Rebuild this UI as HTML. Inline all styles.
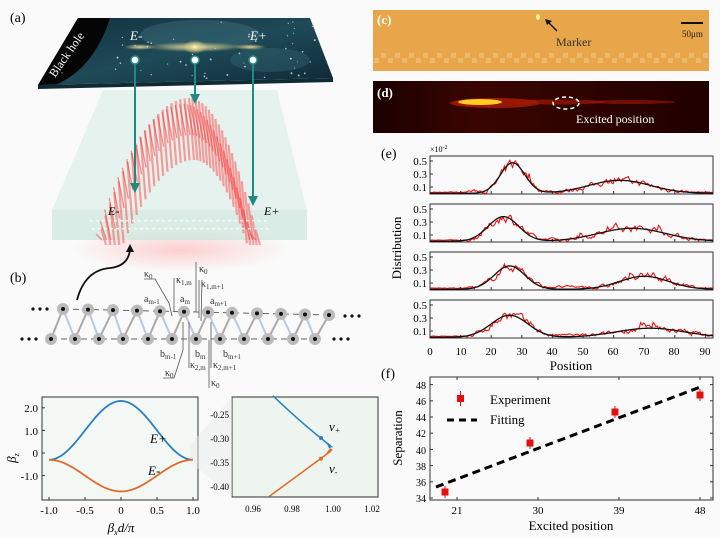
<!DOCTYPE html>
<html><head><meta charset="utf-8">
<style>
html,body{margin:0;padding:0;background:#fafafa;}
svg{display:block;font-family:"Liberation Serif",serif;}
</style></head>
<body>
<svg id="s" width="720" height="538" viewBox="0 0 720 538" xmlns="http://www.w3.org/2000/svg">
<defs>
<linearGradient id="gal" x1="0" y1="0" x2="1" y2="1">
<stop offset="0" stop-color="#12303f"/><stop offset="0.5" stop-color="#1f4a58"/><stop offset="1" stop-color="#0e2836"/>
</linearGradient>
<radialGradient id="glow"><stop offset="0" stop-color="#fff6c0"/><stop offset="0.4" stop-color="#d8cc8a" stop-opacity="0.8"/><stop offset="1" stop-color="#d8cc8a" stop-opacity="0"/></radialGradient>
<radialGradient id="redg" cx="0.5" cy="0.5" r="0.5"><stop offset="0" stop-color="#ff8080" stop-opacity="0.35"/><stop offset="1" stop-color="#ff8080" stop-opacity="0"/></radialGradient>
<linearGradient id="dgr" x1="0" y1="0" x2="1" y2="0"><stop offset="0" stop-color="#1a0000"/><stop offset="0.3" stop-color="#3a0500"/><stop offset="1" stop-color="#200000"/></linearGradient>
<clipPath id="galclip"><polygon points="78,18 310,18 333,78 38,85"/></clipPath>
</defs>
<rect width="720" height="538" fill="#fafafa"/>
<!-- (a) -->
<text x="10" y="22" font-size="14">(a)</text>
<ellipse cx="180" cy="250" rx="110" ry="22" fill="url(#redg)"/>
<polygon points="103,90 277,90 307,210 52,210" fill="#d6ebe4" opacity="0.55"/>
<polygon points="52,210 307,210 307,240 52,240" fill="#c4e2d8" opacity="0.6"/>
<g id="arch"></g>
<polygon points="38,85 333,78 333,82 38,89" fill="#0e2a33"/>
<polygon points="78,18 310,18 333,78 38,85" fill="url(#gal)"/>
<g clip-path="url(#galclip)">
<ellipse cx="200" cy="35" rx="60" ry="15" fill="#4a7a88" opacity="0.35"/>
<ellipse cx="270" cy="60" rx="40" ry="12" fill="#3d6f7c" opacity="0.35"/>
<ellipse cx="195" cy="47" rx="50" ry="5" fill="url(#glow)" opacity="0.8"/>
<ellipse cx="195" cy="47" rx="12" ry="7" fill="url(#glow)"/>
<ellipse cx="140" cy="47" rx="16" ry="3" fill="url(#glow)" opacity="0.8"/>
<ellipse cx="250" cy="47" rx="16" ry="3" fill="url(#glow)" opacity="0.8"/>
<path d="M38,90 Q90,80 110,18 L30,10 Z" fill="#050505"/>
</g>
<g id="stars" fill="#fff" opacity="0.7"></g>
<text x="55" y="78" font-size="12" fill="#fff" transform="rotate(-55 55 78)">Black hole</text>
<text x="130" y="40" font-size="13" font-style="italic" fill="#fff">E-</text>
<text x="250" y="40" font-size="13" font-style="italic" fill="#fff">E+</text>
<g fill="#fff" stroke="#2a8f88" stroke-width="1.5">
<circle cx="135" cy="60" r="4"/><circle cx="195" cy="60" r="4"/><circle cx="253" cy="60" r="4"/>
</g>
<g stroke="#1e8a82" stroke-width="2" fill="#1e8a82">
<line x1="135" y1="64" x2="135" y2="186"/><polygon points="130,183 140,183 135,193" stroke="none"/>
<line x1="195" y1="64" x2="195" y2="97"/><polygon points="190,94 200,94 195,104" stroke="none"/>
<line x1="253" y1="64" x2="253" y2="199"/><polygon points="248,196 258,196 253,206" stroke="none"/>
</g>
<text x="108" y="215" font-size="12" font-style="italic">E-</text>
<text x="264" y="215" font-size="12" font-style="italic">E+</text>
<g fill="#fff" opacity="0.8" id="dots"></g>
<path d="M77,300 Q85,270 110,268 Q128,266 130,250" fill="none" stroke="#111" stroke-width="1.8"/>
<polygon points="126,252 134,252 130,244" fill="#111"/>
<!-- (b) -->
<text x="10" y="282" font-size="14">(b)</text>
<g id="lat"></g>
<g font-size="10" fill="#333" stroke="none">
<text x="144" y="277">κ<tspan font-size="7" dy="2">0</tspan></text>
<text x="176" y="283">κ<tspan font-size="7" dy="2">1,m</tspan></text>
<text x="199" y="272">κ<tspan font-size="7" dy="2">0</tspan></text>
<text x="201" y="287">κ<tspan font-size="7" dy="2">1,m+1</tspan></text>
<text x="144" y="302">a<tspan font-size="7" dy="2">m-1</tspan></text>
<text x="180" y="302">a<tspan font-size="7" dy="2">m</tspan></text>
<text x="210" y="304">a<tspan font-size="7" dy="2">m+1</tspan></text>
<text x="160" y="357">b<tspan font-size="7" dy="2">m-1</tspan></text>
<text x="195" y="357">b<tspan font-size="7" dy="2">m</tspan></text>
<text x="223" y="357">b<tspan font-size="7" dy="2">m+1</tspan></text>
<text x="190" y="368">κ<tspan font-size="7" dy="2">2,m</tspan></text>
<text x="213" y="368">κ<tspan font-size="7" dy="2">2,m+1</tspan></text>
<text x="165" y="376">κ<tspan font-size="7" dy="2">0</tspan></text>
<text x="211" y="386">κ<tspan font-size="7" dy="2">0</tspan></text>
</g>
<g stroke="#555" stroke-width="0.8" fill="none">
<path d="M144,279 L155,279 L169,303 L172,316"/>
<line x1="174" y1="278" x2="174" y2="312"/><line x1="196" y1="262" x2="196" y2="312"/><line x1="199" y1="280" x2="199" y2="318"/><line x1="202" y1="280" x2="201" y2="321"/>
<line x1="189" y1="322" x2="189" y2="368"/><line x1="211" y1="322" x2="211" y2="368"/><line x1="209" y1="340" x2="209" y2="388"/>
<path d="M163,378 L174,378 L183,350 L183,322"/>
</g>
<!-- bottom-left plots -->
<rect x="42" y="397" width="156" height="103" fill="#f4f8f4" stroke="#333" stroke-width="1"/>
<rect x="232" y="397" width="146" height="100" fill="#eef5ef" stroke="#333" stroke-width="1"/>
<polygon points="190,445 232,397 232,497 190,462" fill="#e6ece8" opacity="0.5"/>
<g id="p1"></g>
<g font-size="11" text-anchor="end">
<text x="38" y="412">2.0</text><text x="38" y="435">1.0</text><text x="38" y="457">0</text><text x="38" y="480">-1.0</text>
</g>
<g font-size="11" text-anchor="middle">
<text x="49" y="514">-1.0</text><text x="85" y="514">-0.5</text><text x="121" y="514">0</text><text x="157" y="514">0.5</text><text x="193" y="514">1.0</text>
<text x="121" y="532" font-style="italic" font-size="13">β<tspan font-size="8" dy="3">x</tspan><tspan dy="-3">d/π</tspan></text>
</g>
<text x="16" y="458" font-size="13" font-style="italic" transform="rotate(-90 16 458)" text-anchor="middle">β<tspan font-size="8" dy="3">z</tspan></text>
<text x="150" y="443" font-size="13" font-style="italic">E+</text>
<text x="148" y="475" font-size="13" font-style="italic">E-</text>
<g font-size="9" text-anchor="end">
<text x="229" y="418">-0.25</text><text x="229" y="442">-0.30</text><text x="229" y="466">-0.35</text><text x="229" y="490">-0.40</text>
</g>
<g font-size="9" text-anchor="middle">
<text x="253" y="512">0.96</text><text x="292" y="512">0.98</text><text x="333" y="512">1.00</text><text x="372" y="512">1.02</text>
</g>
<text x="329" y="431" font-size="13" font-style="italic">ν<tspan font-size="8" dy="2">+</tspan></text>
<text x="329" y="473" font-size="13" font-style="italic">ν<tspan font-size="8" dy="2">-</tspan></text>
<!-- (c) -->
<rect x="373" y="10" width="336" height="61" fill="#e8a64a"/>
<g id="zig"></g>
<ellipse cx="538" cy="17" rx="2" ry="3" fill="#fff3a0"/>
<line x1="548" y1="22" x2="557" y2="31" stroke="#111" stroke-width="1.5"/><polygon points="545,19 552,21 547,25" fill="#111"/>
<text x="377" y="24" font-size="13" font-weight="bold" fill="#fff">(c)</text>
<text x="556" y="46" font-size="12" fill="#333">Marker</text>
<line x1="681" y1="23" x2="703" y2="23" stroke="#111" stroke-width="2"/>
<text x="682" y="37" font-size="9" fill="#222">50μm</text>
<!-- (d) -->
<rect x="373" y="81" width="336" height="52" fill="url(#dgr)"/>
<ellipse cx="495" cy="103" rx="45" ry="5" fill="#c02000" opacity="0.7"/>
<ellipse cx="480" cy="102" rx="22" ry="3" fill="#ffcc20"/>
<ellipse cx="555" cy="102" rx="50" ry="2.5" fill="#a01800" opacity="0.7"/>
<ellipse cx="630" cy="102" rx="45" ry="2" fill="#901500" opacity="0.7"/>
<ellipse cx="566" cy="103" rx="13" ry="6" fill="none" stroke="#fff" stroke-width="1.5" stroke-dasharray="4,3"/>
<text x="377" y="97" font-size="13" font-weight="bold" fill="#fff">(d)</text>
<text x="576" y="123" font-size="12" fill="#fff">Excited position</text>
<!-- (e) -->
<text x="381" y="158" font-size="14">(e)</text>
<text x="430" y="152" font-size="8">×10<tspan font-size="6" dy="-3">-2</tspan></text>
<g id="pe"></g>
<g font-size="11" text-anchor="middle">
<text x="430" y="355">0</text><text x="461" y="355">10</text><text x="491" y="355">20</text><text x="522" y="355">30</text><text x="552" y="355">40</text><text x="583" y="355">50</text><text x="613" y="355">60</text><text x="644" y="355">70</text><text x="674" y="355">80</text><text x="705" y="355">90</text>
<text x="571" y="370" font-size="13">Position</text>
</g>
<text x="401" y="248" font-size="13" text-anchor="middle" transform="rotate(-90 401 248)">Distribution</text>
<!-- (f) -->
<text x="381" y="378" font-size="14">(f)</text>
<rect x="430" y="377" width="283" height="123" fill="none" stroke="#333" stroke-width="1"/>
<g id="pf"></g>
<g font-size="10" text-anchor="end">
<text x="426" y="389">48</text><text x="426" y="405">46</text><text x="426" y="421">44</text><text x="426" y="437">42</text><text x="426" y="454">40</text><text x="426" y="470">38</text><text x="426" y="486">36</text><text x="426" y="502">34</text>
</g>
<g font-size="11" text-anchor="middle">
<text x="457" y="514">21</text><text x="538" y="514">30</text><text x="619" y="514">39</text><text x="700" y="514">48</text>
<text x="571" y="530" font-size="13">Excited position</text>
</g>
<text x="402" y="438" font-size="13" text-anchor="middle" transform="rotate(-90 402 438)">Separation</text>
<rect x="457" y="395" width="7" height="7" fill="#e41010"/><line x1="460.5" y1="391" x2="460.5" y2="406" stroke="#e41010"/>
<text x="490" y="404" font-size="13">Experiment</text>
<line x1="447" y1="420" x2="477" y2="420" stroke="#000" stroke-width="3" stroke-dasharray="7,5"/>
<text x="490" y="424" font-size="13">Fitting</text>
</svg>
<script>
var NS="http://www.w3.org/2000/svg";
function el(p,t,a){var e=document.createElementNS(NS,t);for(var k in a)e.setAttribute(k,a[k]);p.appendChild(e);return e;}
var seed=7;function rnd(){seed=(seed*16807)%2147483647;return seed/2147483647;}
var st=document.getElementById('stars');
for(var i=0;i<60;i++){var y=22+rnd()*58;var x0=78-(y-18)*40/67,x1=310+(y-18)*23/60;var x=x0+rnd()*(x1-x0);if(x<105&&y<70)continue;el(st,'circle',{cx:x,cy:y,r:0.5+rnd()*0.5});}
var zg=document.getElementById('zig');
for(var i=0;i<48;i++){el(zg,'rect',{x:374+i*7,y:(i%2?53:58),width:5,height:5,fill:'#f2c27a',opacity:0.7});}
var ar=document.getElementById('arch');
for(var i=0;i<=40;i++){var t=-1+i/20;var x=195+t*(t<0?88:66);var y=100+130*t*t;
 el(ar,'line',{x1:x-6,y1:y-2,x2:x-1,y2:Math.min(y+60,245),stroke:'#ff4a4a','stroke-width':2.2,opacity:0.5});
 el(ar,'line',{x1:x-11,y1:y+4,x2:x-5,y2:Math.min(y+35,240),stroke:'#ff2a2a','stroke-width':1.3,opacity:0.5});}
var dt=document.getElementById('dots');
for(var i=0;i<30;i++){el(dt,'rect',{x:90+i*6,y:220,width:3,height:1.5});el(dt,'rect',{x:92+i*6,y:228,width:3,height:1.5});}
var lt=document.getElementById('lat');
var tx=[63,88,113,137,160,184,208,232,257,281,305,329],bx=[51,75,99,123,148,172,196,220,244,268,293,315];
function ty(x){return 309+(x-63)*6/266;}
for(var i=0;i<12;i++){el(lt,'line',{x1:tx[i],y1:ty(tx[i]),x2:bx[i],y2:339,stroke:'#aaa','stroke-width':2});
 if(i<11)el(lt,'line',{x1:tx[i],y1:ty(tx[i]),x2:bx[i+1],y2:339,stroke:'#b8c8e8','stroke-width':2});}
el(lt,'line',{x1:63,y1:309,x2:329,y2:315,stroke:'#666','stroke-dasharray':'6,4','stroke-width':1});
el(lt,'line',{x1:51,y1:339,x2:315,y2:339,stroke:'#666','stroke-dasharray':'6,4','stroke-width':1});
for(var i=0;i<12;i++){[[tx[i],ty(tx[i])],[bx[i],339]].forEach(function(p){el(lt,'circle',{cx:p[0],cy:p[1],r:6,fill:'#bbb'});el(lt,'circle',{cx:p[0],cy:p[1],r:2,fill:'#111'});});}
[[33,309],[40,309],[47,309],[345,316],[352,316],[359,316],[22,339],[29,339],[36,339],[334,339],[341,339],[348,339]].forEach(function(p){el(lt,'circle',{cx:p[0],cy:p[1],r:1.6,fill:'#111'});});
var p1=document.getElementById('p1');
function px1(v){return 121+v*72;}function py1(v){return 453-v*22.6;}
var a='',b='';for(var i=0;i<=100;i++){var v=-1+i/50;var c=Math.cos(Math.PI*v);a+=(i?'L':'M')+px1(v)+','+py1(1+1.3*c);b+=(i?'L':'M')+px1(v)+','+py1(-1-0.7*c);}
el(p1,'path',{d:a,fill:'none',stroke:'#2a7fc0','stroke-width':1.8});el(p1,'path',{d:b,fill:'none',stroke:'#e06a2a','stroke-width':1.8});
[-1,-0.5,0,0.5,1].forEach(function(v){el(p1,'line',{x1:px1(v),y1:500,x2:px1(v),y2:497,stroke:'#333'});});
[2,1,0,-1].forEach(function(v){el(p1,'line',{x1:42,y1:py1(v),x2:45,y2:py1(v),stroke:'#333'});});
function px2(v){return 253+(v-0.96)*2000;}function py2(v){return 415-(v+0.25)*480;}
el(p1,'path',{d:'M'+px2(0.97)+','+py2(-0.21)+' Q'+px2(0.985)+','+py2(-0.27)+' '+px2(0.999)+','+py2(-0.315),fill:'none',stroke:'#2a7fc0','stroke-width':1.5});
el(p1,'path',{d:'M'+px2(0.968)+','+py2(-0.42)+' L'+px2(0.999)+','+py2(-0.325),fill:'none',stroke:'#e06a2a','stroke-width':1.5});
el(p1,'polygon',{points:(px2(1.0))+','+py2(-0.317)+' '+(px2(1.0)-7)+','+(py2(-0.317)-5)+' '+(px2(1.0)-4)+','+(py2(-0.317)+1),fill:'#2a7fc0'});
el(p1,'polygon',{points:(px2(1.0))+','+py2(-0.323)+' '+(px2(1.0)-7)+','+(py2(-0.323)+4)+' '+(px2(1.0)-3)+','+(py2(-0.323)-2),fill:'#e06a2a'});
el(p1,'circle',{cx:px2(0.994),cy:py2(-0.298),r:2,fill:'#2a7fc0'});el(p1,'circle',{cx:px2(0.994),cy:py2(-0.341),r:2,fill:'#e06a2a'});
var pe=document.getElementById('pe');
var P=[[156,0.47,27,4,0.2,62,10],[204,0.38,24,5,0.2,66,11],[252,0.36,26,5,0.2,70,8],[300,0.34,26,6,0.14,72,11]];
function ex(v){return 430+v*3.06;}
P.forEach(function(q){var T=q[0];function ey(v){return T+37.5-v*65;}
 el(pe,'rect',{x:430,y:T,width:283,height:38,fill:'none',stroke:'#333'});
 [0.1,0.3,0.5].forEach(function(v){el(pe,'line',{x1:430,y1:ey(v),x2:433,y2:ey(v),stroke:'#333'});el(pe,'text',{x:427,y:ey(v)+4,'font-size':11,'text-anchor':'end'}).textContent=String(v);});
 for(var k=0;k<=90;k+=10){el(pe,'line',{x1:ex(k),y1:T+38,x2:ex(k),y2:T+35,stroke:'#333'});}
 function g(x){return q[1]*Math.exp(-Math.pow(x-q[2],2)/(2*q[3]*q[3]))+q[4]*Math.exp(-Math.pow(x-q[5],2)/(2*q[6]*q[6]));}
 var r='',f='',prev=0;for(var x=0;x<=92.5;x+=0.45){var y=g(x);var n;
  if(y>0.02){n=y+(rnd()-0.5)*0.22*(0.4+y*2);}else{n=0.01+rnd()*0.06*(x>12&&x<85?1:0.35);}
  if(rnd()<0.04&&y>0.05)n+=0.12;
  n=0.5*n+0.5*(prev||n);prev=n;
  n=Math.max(0.003,Math.min(0.55,n));r+=(x?'L':'M')+ex(x).toFixed(1)+','+ey(n).toFixed(1);}
 for(var x=0;x<=92.5;x+=0.5){f+=(x?'L':'M')+ex(x).toFixed(1)+','+ey(g(x)+0.003).toFixed(1);}
 el(pe,'path',{d:r,fill:'none',stroke:'#f01010','stroke-width':1.1});
 el(pe,'path',{d:f,fill:'none',stroke:'#111','stroke-width':1.3});
});
var pf=document.getElementById('pf');
el(pf,'line',{x1:436,y1:487,x2:703,y2:386,stroke:'#000','stroke-width':3,'stroke-dasharray':'8,5'});
[[445,492],[530,443],[615,412],[700,395]].forEach(function(p){el(pf,'rect',{x:p[0]-3.5,y:p[1]-3.5,width:7,height:7,fill:'#e41010'});el(pf,'line',{x1:p[0],y1:p[1]-6,x2:p[0],y2:p[1]+6,stroke:'#e41010'});});
function fy(v){return 498-(v-34)*8.1;}
[457,538,619,700].forEach(function(x){el(pf,'line',{x1:x,y1:500,x2:x,y2:497,stroke:'#333'});el(pf,'line',{x1:x,y1:377,x2:x,y2:380,stroke:'#333'});});
for(var v=34;v<=48;v+=2){el(pf,'line',{x1:430,y1:fy(v),x2:433,y2:fy(v),stroke:'#333'});el(pf,'line',{x1:713,y1:fy(v),x2:710,y2:fy(v),stroke:'#333'});}
</script>
</body></html>
